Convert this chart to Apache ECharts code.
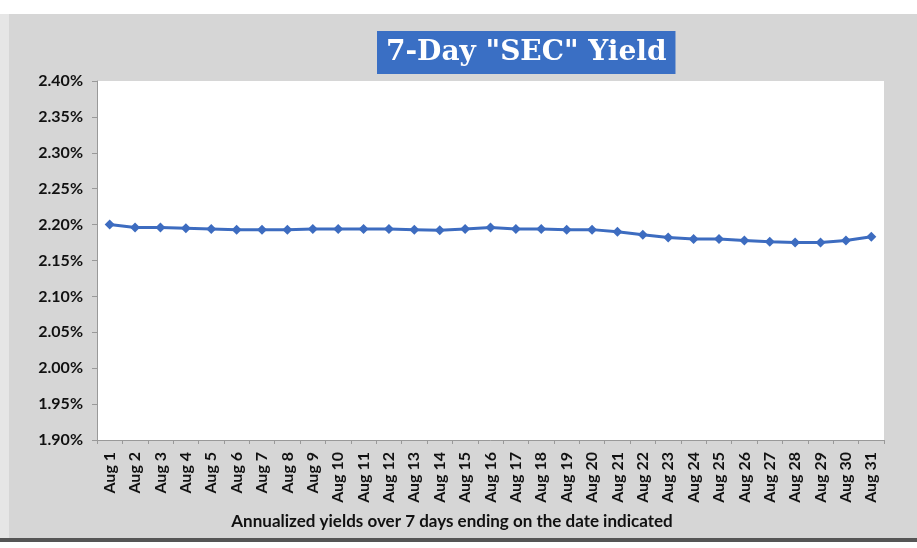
<!DOCTYPE html>
<html><head><meta charset="utf-8">
<script src="https://cdn.jsdelivr.net/npm/echarts@6/dist/echarts.min.js"></script>
<style>html,body{margin:0;padding:0;background:#fff}#c{width:917px;height:548px}</style>
</head><body><div id="c"></div>
<script>
const categories = ['Aug 1','Aug 2','Aug 3','Aug 4','Aug 5','Aug 6','Aug 7','Aug 8','Aug 9','Aug 10','Aug 11','Aug 12','Aug 13','Aug 14','Aug 15','Aug 16','Aug 17','Aug 18','Aug 19','Aug 20','Aug 21','Aug 22','Aug 23','Aug 24','Aug 25','Aug 26','Aug 27','Aug 28','Aug 29','Aug 30','Aug 31'];
const yieldValues = [2.200,2.196,2.196,2.195,2.194,2.193,2.193,2.193,2.194,2.194,2.194,2.194,2.193,2.192,2.194,2.196,2.194,2.194,2.193,2.193,2.190,2.186,2.182,2.180,2.180,2.178,2.176,2.175,2.175,2.178,2.183];
const titleText = '7-Day "SEC" Yield';
const xAxisTitle = 'Annualized yields over 7 days ending on the date indicated';

const chart = echarts.init(document.getElementById('c'));
chart.setOption({
  animation: false,
  backgroundColor: '#fff',
  graphic: [
    {type:'rect', shape:{x:0,y:14,width:917,height:528}, style:{fill:'#d6d6d6'}, z:-10},
    {type:'rect', shape:{x:0,y:14,width:9,height:528}, style:{fill:'#e6e6e6'}, z:-9},
    {type:'rect', shape:{x:0,y:538,width:917,height:4}, style:{fill:'#555'}, z:-9},
    {type:'text', x:452, y:522, style:{text:xAxisTitle, fill:'#111', font:'bold 17px Lato', textAlign:'center', textVerticalAlign:'middle'}, z:10}
  ],
  title: {
    text: titleText,
    left: 377, top: 31,
    padding: [8, 9, 7, 9],
    backgroundColor: '#3a6fc4',
    textStyle: {color:'#fff', fontFamily:'DejaVu Serif', fontWeight:'bold', fontSize:28}
  },
  grid: {left: 97, right: 33, top: 81, bottom: 108, show: true, backgroundColor: '#fff', borderWidth: 0},
  xAxis: {
    type: 'category', data: categories, boundaryGap: true,
    axisLine: {lineStyle: {color: '#999'}},
    axisTick: {show: true, length: 4, lineStyle: {color: '#999'}},
    axisLabel: {rotate: 90, interval: 0, fontFamily: 'Lato', fontWeight: 'bold', fontSize: 16, color: '#111', margin: 12}
  },
  yAxis: {
    type: 'value', min: 1.9, max: 2.4, interval: 0.05,
    axisLine: {show: true, lineStyle: {color: '#999'}},
    axisTick: {show: true, length: 5, lineStyle: {color: '#999'}},
    splitLine: {show: false},
    axisLabel: {formatter: v => v.toFixed(2) + '%', fontFamily: 'Lato', fontWeight: 'bold', fontSize: 16, color: '#111', margin: 14}
  },
  series: [{
    type: 'line', data: yieldValues,
    symbol: 'diamond', symbolSize: 10,
    lineStyle: {color: '#3d6cc0', width: 3},
    itemStyle: {color: '#3d6cc0'}
  }]
});
</script></body></html>
